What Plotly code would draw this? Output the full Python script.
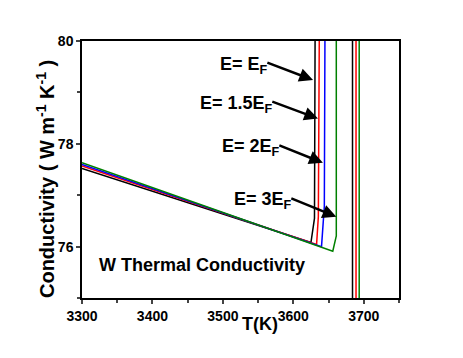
import plotly.graph_objects as go

# conductivity curves (T in K, k in W m-1 K-1)
t_black = [3300, 3625, 3630, 3631, 3631]
k_black = [77.52, 76.08, 76.55, 79.0, 80.5]
t_red = [3300, 3633, 3635.5, 3637, 3637]
k_red = [77.57, 76.04, 76.58, 79.0, 80.5]
t_blue = [3300, 3640, 3644, 3645, 3645]
k_blue = [77.60, 76.00, 76.78, 79.0, 80.5]
t_green = [3300, 3656, 3661, 3661, 3661]
k_green = [77.63, 75.91, 76.21, 79.0, 80.5]

# second set of vertical lines
t_v2 = {'black': 3684, 'red': 3689, 'green': 3693.5}
k_v2 = [74.5, 80.5]

# arrow labels: text, tail (t, k), head (t, k)
labels = ['E= E<sub>F</sub>', 'E= 1.5E<sub>F</sub>', 'E= 2E<sub>F</sub>', 'E= 3E<sub>F</sub>']
tail_t = [3561, 3568, 3578, 3595]
tail_k = [79.59, 78.83, 77.98, 76.95]
head_t = [3628, 3635, 3642, 3661]
head_k = [79.24, 78.49, 77.63, 76.58]

FONT = 'Arial, Liberation Sans, sans-serif'

fig = go.Figure()
for t, k, c in [(t_black, k_black, 'black'), (t_red, k_red, 'red'),
                (t_blue, k_blue, 'blue'), (t_green, k_green, 'green')]:
    fig.add_trace(go.Scatter(x=t, y=k, mode='lines', line=dict(color=c, width=1.5),
                             showlegend=False))

for c, t in t_v2.items():
    fig.add_trace(go.Scatter(x=[t, t], y=k_v2, mode='lines', line=dict(color=c, width=1.5),
                             showlegend=False))

for lab, tt, tk, ht, hk in zip(labels, tail_t, tail_k, head_t, head_k):
    # arrow
    fig.add_annotation(x=ht, y=hk, ax=tt, ay=tk, xref='x', yref='y', axref='x', ayref='y',
                       text='', showarrow=True, arrowhead=2, arrowsize=1.1, arrowwidth=2.5,
                       arrowcolor='black')
    # label
    fig.add_annotation(x=tt, y=tk, xref='x', yref='y', text=lab, showarrow=False,
                       xanchor='right', yanchor='middle', xshift=4, yshift=-3,
                       font=dict(family=FONT, size=18, color='black', weight='bold'))

fig.add_annotation(x=3471, y=75.65, xref='x', yref='y', text='W Thermal Conductivity',
                   showarrow=False, font=dict(family=FONT, size=18, color='black', weight='bold'))

# axis titles as annotations (x title sits between tick labels)
fig.add_annotation(x=0.5615, y=0, xref='paper', yref='paper', yshift=-26, text='T(K)',
                   showarrow=False, yanchor='middle',
                   font=dict(family=FONT, size=18, color='black', weight='bold'))
fig.add_annotation(x=0, y=0.463, xref='paper', yref='paper', xshift=-37, textangle=-90,
                   text='Conductivity ( W m<sup>-1</sup> K<sup>-1</sup> )',
                   showarrow=False, xanchor='center', yanchor='middle',
                   font=dict(family=FONT, size=20, color='black', weight='bold'))

fig.update_xaxes(range=[3300, 3750], tick0=3300, dtick=100, ticks='outside', ticklen=4,
                 tickwidth=1.5, minor=dict(dtick=50, ticks='outside', ticklen=3, tickwidth=1.5),
                 showline=True, linecolor='black', linewidth=1.5, mirror=True, showgrid=False,
                 zeroline=False, automargin=False,
                 tickfont=dict(family=FONT, size=14, color='black', weight='bold'))
fig.update_yaxes(range=[75, 80], tick0=76, dtick=2, ticks='outside', ticklen=4,
                 tickwidth=1.5, minor=dict(dtick=1, ticks='outside', ticklen=3, tickwidth=1.5),
                 showline=True, linecolor='black', linewidth=1.5, mirror=True, showgrid=False,
                 zeroline=False, automargin=False,
                 tickfont=dict(family=FONT, size=14, color='black', weight='bold'))

# page body has an 8px margin, so shift the figure back
fig.update_layout(width=455, height=350, margin=dict(l=74, r=64, t=33, b=60),
                  plot_bgcolor='white', paper_bgcolor='white')

fig.write_html("out.html")
